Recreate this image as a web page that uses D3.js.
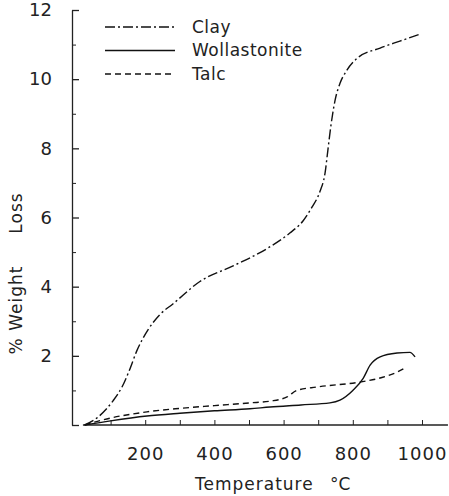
<!DOCTYPE html>
<html>
<head>
<meta charset="utf-8">
<script src="https://cdn.jsdelivr.net/npm/d3@7"></script>
<style>
  body { margin: 0; background: #fff; }
  svg text { font-family: "DejaVu Sans", sans-serif; fill: #222; }
</style>
</head>
<body>
<svg id="chart" width="449" height="496"></svg>
<script>
// values (temperature in degC, % weight loss)
const seriesNames = ['Clay', 'Wollastonite', 'Talc'];

const clayTemp = [25, 60, 107, 133, 155, 176, 208, 243, 280, 358, 454, 552, 618, 656, 682, 705, 720, 728, 736, 749, 763, 783, 812, 879, 936, 994];
const clayLoss = [0, 0.2, 0.7, 1.1, 1.6, 2.15, 2.75, 3.2, 3.5, 4.15, 4.6, 5.1, 5.55, 5.9, 6.3, 6.75, 7.3, 7.95, 8.6, 9.4, 9.88, 10.26, 10.6, 10.9, 11.1, 11.3];

const wollTemp = [25, 100, 205, 300, 400, 503, 561, 650, 734, 763, 800, 830, 850, 879, 928, 965, 980];
const wollLoss = [0, 0.12, 0.26, 0.34, 0.41, 0.47, 0.52, 0.58, 0.64, 0.72, 1.0, 1.35, 1.73, 1.97, 2.08, 2.1, 1.97];

const talcTemp = [25, 78, 205, 300, 400, 503, 561, 610, 638, 697, 820, 879, 928, 951];
const talcLoss = [0, 0.15, 0.38, 0.48, 0.56, 0.64, 0.69, 0.81, 1.0, 1.1, 1.24, 1.36, 1.53, 1.65];

const yMajorTicks = [0, 2, 4, 6, 8, 10, 12];
const yMinorTicks = [1, 3, 5, 7, 9, 11];
const xTicks = [100, 200, 300, 400, 500, 600, 700, 800, 900, 1000];
const xLabelTicks = [200, 400, 600, 800, 1000];

const svg = d3.select('#chart');

const xScale = d3.scaleLinear().domain([0, 1000]).range([76, 422]);
const yScale = d3.scaleLinear().domain([0, 12]).range([425, 10]);

const dashes = { 'Clay': '10,3,2,3', 'Wollastonite': null, 'Talc': '6,4' };
const series = [
  { name: 'Clay', temp: clayTemp, loss: clayLoss },
  { name: 'Wollastonite', temp: wollTemp, loss: wollLoss },
  { name: 'Talc', temp: talcTemp, loss: talcLoss }
];

// y axis, ticks pointing into the plot
const yAxis = d3.axisLeft(yScale)
  .tickValues(yMajorTicks)
  .tickSize(-7)
  .tickSizeOuter(0)
  .tickPadding(20)
  .tickFormat(d => d === 0 ? '' : d);
const gY = svg.append('g')
  .attr('transform', 'translate(72,0)')
  .call(yAxis);
gY.selectAll('text').style('font-size', '18px').style('font-family', '"DejaVu Sans", sans-serif');
gY.selectAll('line, path').attr('stroke', '#222').attr('stroke-width', 1.3);

const gYm = svg.append('g')
  .attr('transform', 'translate(72,0)')
  .call(d3.axisLeft(yScale).tickValues(yMinorTicks).tickSize(-4).tickFormat(''));
gYm.select('.domain').remove();
gYm.selectAll('line').attr('stroke', '#222');

// x axis, small ticks up, labels every 200
const xAxis = d3.axisBottom(xScale)
  .tickValues(xTicks)
  .tickSize(-5)
  .tickPadding(22)
  .tickFormat(d => xLabelTicks.includes(d) ? d : '');
const gX = svg.append('g')
  .attr('transform', 'translate(0,' + yScale(0) + ')')
  .call(xAxis);
gX.select('.domain').remove();
gX.selectAll('line').attr('stroke', '#222');
gX.selectAll('text').style('font-size', '18px').style('letter-spacing', '1px');
gX.append('line')
  .attr('x1', xScale(20)).attr('x2', xScale(1075))
  .attr('stroke', '#222').attr('stroke-width', 1.3);

// curves
const line = d3.line()
  .x(d => xScale(d[0]))
  .y(d => yScale(d[1]))
  .curve(d3.curveMonotoneX);

svg.append('g').selectAll('path')
  .data(series)
  .enter()
  .append('path')
  .attr('d', s => line(s.temp.map((t, i) => [t, s.loss[i]])))
  .attr('fill', 'none')
  .attr('stroke', '#111')
  .attr('stroke-width', 1.4)
  .attr('stroke-dasharray', s => dashes[s.name]);

// legend
const legY = d3.scalePoint().domain(seriesNames).range([27, 74]);
const leg = svg.append('g').selectAll('g')
  .data(seriesNames)
  .enter()
  .append('g')
  .attr('transform', d => 'translate(0,' + legY(d) + ')');
leg.append('line')
  .attr('x1', 105).attr('x2', 175)
  .attr('stroke', '#111').attr('stroke-width', 1.4)
  .attr('stroke-dasharray', d => dashes[d]);
leg.append('text')
  .attr('x', 192)
  .attr('dy', '0.35em')
  .style('font-size', '17px')
  .style('letter-spacing', '0.5px')
  .text(d => d);

// axis titles
svg.append('text')
  .attr('x', 195)
  .attr('y', 490)
  .style('font-size', '17px')
  .style('letter-spacing', '1px')
  .text('Temperature');
svg.append('text')
  .attr('x', 330)
  .attr('y', 490)
  .style('font-size', '17px')
  .text('°C');

svg.append('text')
  .attr('transform', 'translate(22,310) rotate(-90)')
  .attr('text-anchor', 'middle')
  .style('font-size', '17px')
  .style('letter-spacing', '1px')
  .text('% Weight');
svg.append('text')
  .attr('transform', 'translate(22,213) rotate(-90)')
  .attr('text-anchor', 'middle')
  .style('font-size', '17px')
  .style('letter-spacing', '1px')
  .text('Loss');
</script>
</body>
</html>
